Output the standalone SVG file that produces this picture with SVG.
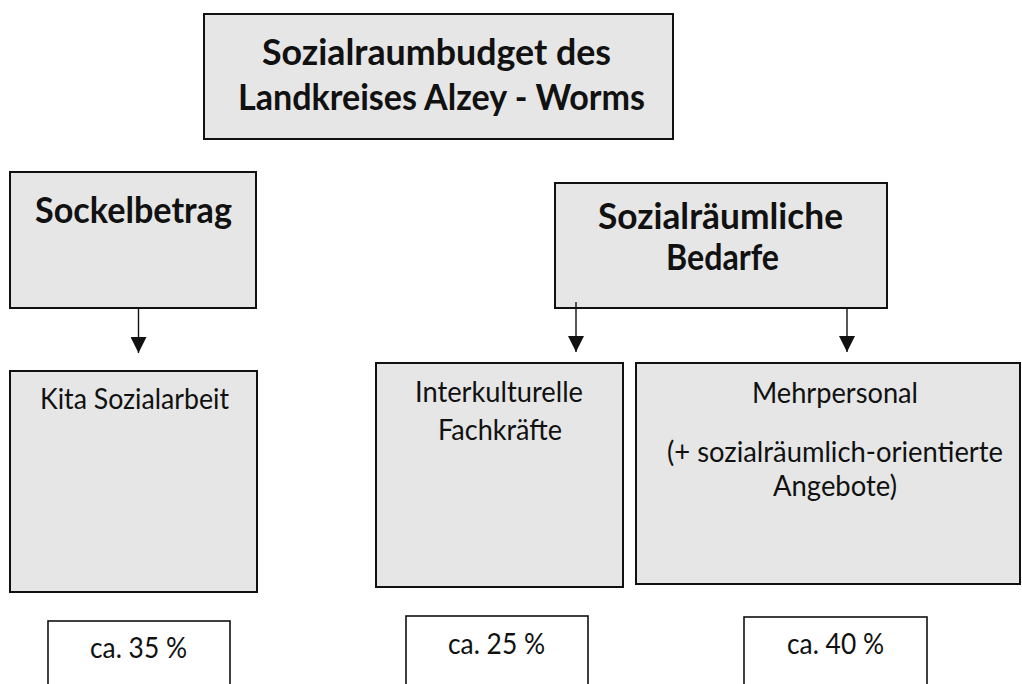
<svg xmlns="http://www.w3.org/2000/svg" width="1022" height="684" viewBox="0 0 1022 684">
<style>
.box{fill:#e6e6e6;stroke:#111;stroke-width:2}
.pct{fill:#fff;stroke:#111;stroke-width:1.6}
.b{font-family:Lato,"Open Sans","Liberation Sans",sans-serif;font-weight:bold;font-size:37px;fill:#111;text-anchor:middle}
.r{font-family:Lato,"Open Sans","Liberation Sans",sans-serif;font-size:28px;fill:#111;text-anchor:middle}
.c{stroke:#111;stroke-width:1.4;fill:none;marker-end:url(#ah)}
</style>
<defs>
<marker id="ah" markerUnits="userSpaceOnUse" markerWidth="16" markerHeight="16" refX="16" refY="8" orient="auto" viewBox="0 0 16 16">
<path d="M0,0 L16,8 L0,16 z" fill="#111"/>
</marker>
</defs>
<rect width="1022" height="684" fill="#fff"/>
<g id="title">
<rect class="box" x="204" y="14" width="469" height="125"/>
<text class="b" x="436.5" y="65" textLength="349" lengthAdjust="spacingAndGlyphs">Sozialraumbudget des</text>
<text class="b" x="441.5" y="110" textLength="407" lengthAdjust="spacingAndGlyphs">Landkreises Alzey - Worms</text>
</g>
<g id="sockelbetrag">
<rect class="box" x="10" y="172" width="246" height="136"/>
<text class="b" x="133.5" y="223" textLength="197" lengthAdjust="spacingAndGlyphs">Sockelbetrag</text>
</g>
<g id="sozialraeumliche">
<rect class="box" x="555" y="183" width="332" height="125"/>
<text class="b" x="720.5" y="229" textLength="245" lengthAdjust="spacingAndGlyphs">Sozialräumliche</text>
<text class="b" x="722.5" y="270" textLength="113" lengthAdjust="spacingAndGlyphs">Bedarfe</text>
</g>
<g id="kita">
<rect class="box" x="10" y="371" width="247" height="221"/>
<text class="r" x="134.5" y="409" textLength="189" lengthAdjust="spacingAndGlyphs">Kita Sozialarbeit</text>
</g>
<g id="interkulturelle">
<rect class="box" x="376" y="363" width="247" height="224"/>
<text class="r" x="499" y="402" textLength="168" lengthAdjust="spacingAndGlyphs">Interkulturelle</text>
<text class="r" x="500" y="440" textLength="124" lengthAdjust="spacingAndGlyphs">Fachkräfte</text>
</g>
<g id="mehrpersonal">
<rect class="box" x="636" y="363" width="384" height="221"/>
<text class="r" x="835" y="403" textLength="166" lengthAdjust="spacingAndGlyphs">Mehrpersonal</text>
<text class="r" x="835" y="462" textLength="336" lengthAdjust="spacingAndGlyphs">(+ sozialräumlich-orientierte</text>
<text class="r" x="835" y="496" textLength="124" lengthAdjust="spacingAndGlyphs">Angebote)</text>
</g>
<g id="pct35">
<rect class="pct" x="48" y="621" width="182" height="80"/>
<text class="r" x="138.5" y="658" textLength="97" lengthAdjust="spacingAndGlyphs">ca. 35 %</text>
</g>
<g id="pct25">
<rect class="pct" x="406" y="616" width="182" height="85"/>
<text class="r" x="496.5" y="654" textLength="97" lengthAdjust="spacingAndGlyphs">ca. 25 %</text>
</g>
<g id="pct40">
<rect class="pct" x="744" y="617" width="183" height="84"/>
<text class="r" x="835.5" y="654" textLength="97" lengthAdjust="spacingAndGlyphs">ca. 40 %</text>
</g>
<g id="connectors">
<line class="c" x1="138.5" y1="309" x2="138.5" y2="353"/>
<line class="c" x1="576" y1="302" x2="576" y2="352"/>
<line class="c" x1="847" y1="309" x2="847" y2="352"/>
</g>
</svg>
